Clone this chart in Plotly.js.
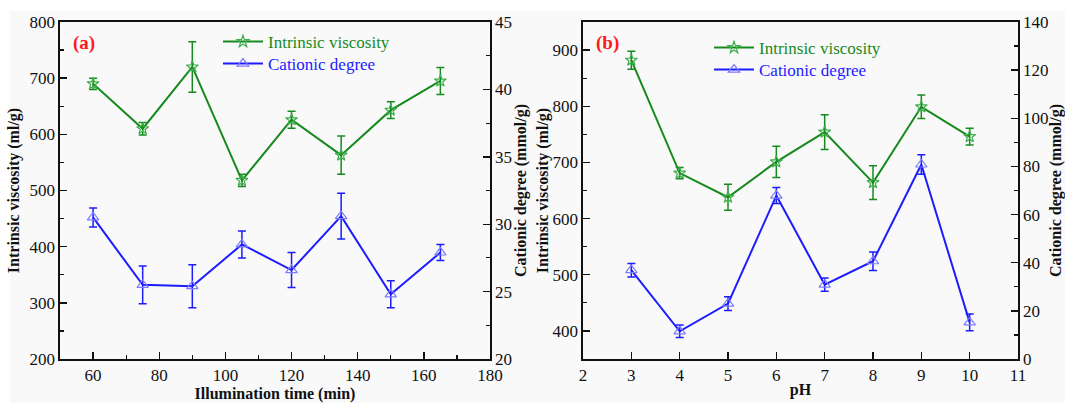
<!DOCTYPE html>
<html>
<head>
<meta charset="utf-8">
<script src="https://cdn.plot.ly/plotly-3.0.1.min.js"></script>
<style>
  html, body { margin: 0; padding: 0; background: #ffffff; font-family: 'Liberation Serif', serif; }
  #chart { width: 1065px; height: 403px; }
</style>
</head>
<body>
<div id="chart"></div>
<script>
// ---- Data: panel (a) ----
const timeA = [60, 75, 90, 105, 120, 135, 150, 165];
const viscA = [690, 610, 720, 518, 626, 563, 643, 695];
const viscAErr = [10, 11, 45, 11, 15, 34, 15, 24];
const catA = [30.5, 25.5, 25.4, 28.5, 26.6, 30.6, 24.8, 27.9];
const catAErr = [0.7, 1.4, 1.6, 1.0, 1.3, 1.7, 1.0, 0.6];

// ---- Data: panel (b) ----
const pH = [3, 4, 5, 6, 7, 8, 9, 10];
const viscB = [882, 681, 638, 701, 754, 664, 799, 746];
const viscBErr = [16, 10, 23, 28, 31, 30, 21, 15];
const catB = [36.9, 11.5, 23.0, 67.9, 30.9, 40.6, 80.8, 15.2];
const catBErr = [2.8, 2.6, 2.9, 3.3, 2.8, 3.8, 4.0, 3.5];

const seriesNames = ['Intrinsic viscosity', 'Cationic degree'];
const panelLabels = ['(a)', '(b)'];
const axisTitles = {
  xa: 'Illumination time (min)', xb: 'pH',
  yl: 'Intrinsic viscosity (ml/g)', yr: 'Cationic degree (mmol/g)'
};

const GREEN = '#178a1e', GREEN_M = '#3cae4a';
const BLUE = '#1c1cff', BLUE_M = '#7c7cff';
const FONT = "'Liberation Serif', 'Times New Roman', 'DejaVu Serif', serif";

function viscTrace(x, y, err, xa, ya, leg) {
  return {
    x: x, y: y, xaxis: xa, yaxis: ya, type: 'scatter', mode: 'lines+markers',
    name: '<span style="color:' + GREEN + '">' + seriesNames[0] + '</span>',
    legend: leg,
    line: { color: GREEN, width: 2 },
    marker: { symbol: 'star-open', size: 9, color: GREEN_M, line: { width: 1.2, color: GREEN_M } },
    error_y: { type: 'data', array: err, visible: true, color: GREEN, thickness: 1.5, width: 4 }
  };
}
function catTrace(x, y, err, xa, ya, leg) {
  return {
    x: x, y: y, xaxis: xa, yaxis: ya, type: 'scatter', mode: 'lines+markers',
    name: '<span style="color:' + BLUE + '">' + seriesNames[1] + '</span>',
    legend: leg,
    line: { color: BLUE, width: 2 },
    marker: { symbol: 'triangle-up-open', size: 10, color: BLUE_M, line: { width: 1.2, color: BLUE_M } },
    error_y: { type: 'data', array: err, visible: true, color: BLUE, thickness: 1.5, width: 4 }
  };
}

const data = [
  viscTrace(timeA, viscA, viscAErr, 'x', 'y', 'legend'),
  catTrace(timeA, catA, catAErr, 'x', 'y2', 'legend2'),
  viscTrace(pH, viscB, viscBErr, 'x2', 'y3', 'legend3'),
  catTrace(pH, catB, catBErr, 'x2', 'y4', 'legend4')
];

const W = 1065, H = 403;
const px = v => v / W, py = v => 1 - v / H;
const domA = [px(60), px(490)], domB = [px(583), px(1018)];
const domY = [py(359), py(22)];

const tickFont = { family: FONT, size: 17, color: '#111' };
const titleFont = { family: FONT, size: 16, color: '#111', weight: 'bold' };

function minorT(d) {
  return { ticks: 'inside', ticklen: 4, tickwidth: 1.2, tickcolor: '#111', dtick: d };
}
function baseAxis(extra) {
  return Object.assign({
    showgrid: false, zeroline: false, showline: true, linecolor: '#111', linewidth: 1.6,
    ticks: 'inside', ticklen: 7, tickwidth: 1.4, tickcolor: '#111',
    tickfont: tickFont, automargin: false
  }, extra);
}
function leg(xpx, ypx) {
  return { x: px(xpx), y: py(ypx), xanchor: 'left', yanchor: 'middle', bgcolor: 'rgba(0,0,0,0)',
    font: { family: FONT, size: 17 }, itemwidth: 40, borderwidth: 0 };
}

const layout = {
  width: W, height: H,
  margin: { l: 0, r: 0, t: 0, b: 0 },
  paper_bgcolor: '#f9f9f9', plot_bgcolor: '#f9f9f9',
  font: { family: FONT },
  showlegend: true,
  xaxis: baseAxis({ domain: domA, anchor: 'y', range: [50, 180], dtick: 20, tick0: 0, mirror: true,
    minor: minorT(10),
    title: { text: axisTitles.xa, font: titleFont, standoff: 6 } }),
  yaxis: baseAxis({ domain: domY, anchor: 'x', range: [200, 800], dtick: 100,
    minor: minorT(50),
    title: { text: axisTitles.yl, font: titleFont, standoff: 6 } }),
  yaxis2: baseAxis({ overlaying: 'y', anchor: 'x', side: 'right', range: [20, 45], dtick: 5,
    minor: minorT(2.5),
    title: { text: axisTitles.yr, font: titleFont, standoff: 4 } }),
  xaxis2: baseAxis({ domain: domB, anchor: 'y3', range: [2, 11], dtick: 1, mirror: true,
    title: { text: axisTitles.xb, font: titleFont, standoff: 0 } }),
  yaxis3: baseAxis({ domain: domY, anchor: 'x2', range: [350, 950], dtick: 100, tick0: 0,
    minor: minorT(50),
    title: { text: axisTitles.yl, font: titleFont, standoff: 0 } }),
  yaxis4: baseAxis({ overlaying: 'y3', anchor: 'x2', side: 'right', range: [0, 140], dtick: 20,
    minor: minorT(10),
    title: { text: axisTitles.yr, font: titleFont, standoff: 4 } }),
  legend: leg(218, 42),
  legend2: leg(218, 64),
  legend3: leg(709, 48),
  legend4: leg(709, 70),
  annotations: [
    { text: '<b>' + panelLabels[0] + '</b>', xref: 'paper', yref: 'paper', x: px(71), y: py(43),
      xanchor: 'left', yanchor: 'middle', showarrow: false, font: { family: FONT, size: 19, color: '#ff1a1a' } },
    { text: '<b>' + panelLabels[1] + '</b>', xref: 'paper', yref: 'paper', x: px(594), y: py(43),
      xanchor: 'left', yanchor: 'middle', showarrow: false, font: { family: FONT, size: 19, color: '#ff1a1a' } }
  ],
  shapes: [
    { type: 'rect', xref: 'paper', yref: 'paper', x0: 0, x1: 1, y0: py(11), y1: 1,
      fillcolor: '#ffffff', line: { width: 0 }, layer: 'below' },
    { type: 'rect', xref: 'paper', yref: 'paper', x0: 0, x1: px(10), y0: 0, y1: 1,
      fillcolor: '#ffffff', line: { width: 0 }, layer: 'below' }
  ]
};

Plotly.newPlot('chart', data, layout, { displayModeBar: false, staticPlot: true });
</script>
</body>
</html>
